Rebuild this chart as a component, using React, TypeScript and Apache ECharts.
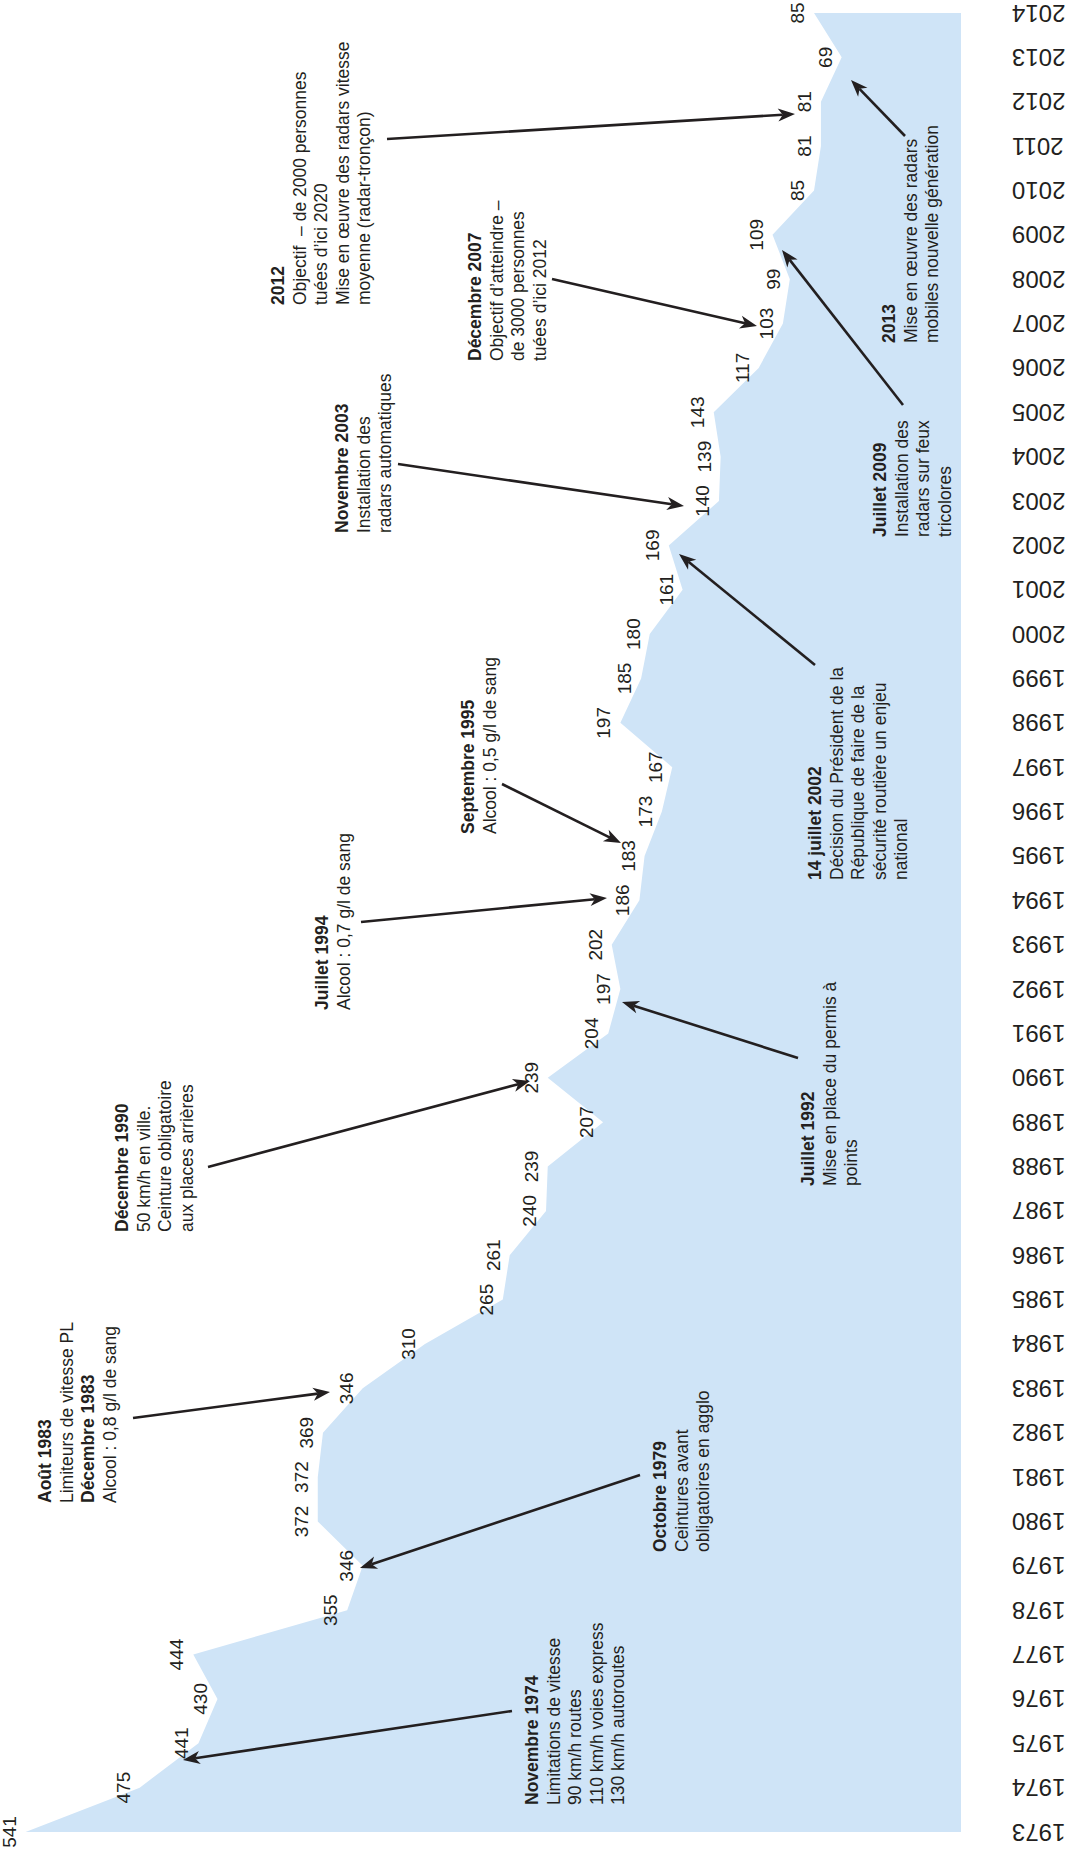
import React, { useEffect, useRef } from 'react';
import * as echarts from 'echarts';

const years = [
  '1973', '1974', '1975', '1976', '1977', '1978', '1979', '1980', '1981', '1982',
  '1983', '1984', '1985', '1986', '1987', '1988', '1989', '1990', '1991', '1992',
  '1993', '1994', '1995', '1996', '1997', '1998', '1999', '2000', '2001', '2002',
  '2003', '2004', '2005', '2006', '2007', '2008', '2009', '2010', '2011', '2012',
  '2013', '2014',
];

const deaths = [
  541, 475, 441, 430, 444, 355, 346, 372, 372, 369,
  346, 310, 265, 261, 240, 239, 207, 239, 204, 197,
  202, 186, 183, 173, 167, 197, 185, 180, 161, 169,
  140, 139, 143, 117, 103, 99, 109, 85, 81, 81,
  69, 85,
];

type Line = { t: string; b?: boolean };
type Note = { cx: number; by: number; lines: Line[]; from: [number, number]; to: [number, number] };

const notes: Note[] = [
  {
    cx: 532, by: 1805,
    lines: [
      { t: 'Novembre 1974', b: true },
      { t: 'Limitations de vitesse' },
      { t: '90 km/h routes' },
      { t: '110 km/h voies express' },
      { t: '130 km/h autoroutes' },
    ],
    from: [512, 1711], to: [183, 1760],
  },
  {
    cx: 660, by: 1552,
    lines: [
      { t: 'Octobre 1979', b: true },
      { t: 'Ceintures avant' },
      { t: 'obligatoires en agglo' },
    ],
    from: [640, 1475], to: [360, 1568],
  },
  {
    cx: 45, by: 1503,
    lines: [
      { t: 'Août 1983', b: true },
      { t: 'Limiteurs de vitesse PL' },
      { t: 'Décembre 1983', b: true },
      { t: 'Alcool : 0,8 g/l de sang' },
    ],
    from: [133, 1418], to: [330, 1392],
  },
  {
    cx: 122, by: 1232,
    lines: [
      { t: 'Décembre 1990', b: true },
      { t: '50 km/h en ville.' },
      { t: 'Ceinture obligatoire' },
      { t: 'aux places arrières' },
    ],
    from: [208, 1167], to: [530, 1081],
  },
  {
    cx: 808, by: 1186,
    lines: [
      { t: 'Juillet 1992', b: true },
      { t: 'Mise en place du permis à' },
      { t: 'points' },
    ],
    from: [798, 1058], to: [622, 1002],
  },
  {
    cx: 322, by: 1010,
    lines: [
      { t: 'Juillet 1994', b: true },
      { t: 'Alcool : 0,7 g/l de sang' },
    ],
    from: [361, 922], to: [607, 898],
  },
  {
    cx: 468, by: 834,
    lines: [
      { t: 'Septembre 1995', b: true },
      { t: 'Alcool : 0,5 g/l de sang' },
    ],
    from: [502, 784], to: [621, 843],
  },
  {
    cx: 815, by: 880,
    lines: [
      { t: '14 juillet 2002', b: true },
      { t: 'Décision du Président de la' },
      { t: 'République de faire de la' },
      { t: 'sécurité routière un enjeu' },
      { t: 'national' },
    ],
    from: [815, 665], to: [679, 554],
  },
  {
    cx: 342, by: 533,
    lines: [
      { t: 'Novembre 2003', b: true },
      { t: 'Installation des' },
      { t: 'radars automatiques' },
    ],
    from: [398, 464], to: [684, 506],
  },
  {
    cx: 475, by: 361,
    lines: [
      { t: 'Décembre 2007', b: true },
      { t: 'Objectif d’atteindre –' },
      { t: 'de 3000 personnes' },
      { t: 'tuées d’ici 2012' },
    ],
    from: [552, 279], to: [757, 326],
  },
  {
    cx: 880, by: 537,
    lines: [
      { t: 'Juillet 2009', b: true },
      { t: 'Installation des' },
      { t: 'radars sur feux' },
      { t: 'tricolores' },
    ],
    from: [903, 405], to: [782, 250],
  },
  {
    cx: 278, by: 305,
    lines: [
      { t: '2012', b: true },
      { t: 'Objectif  – de 2000 personnes' },
      { t: 'tuées d’ici 2020' },
      { t: 'Mise en œuvre des radars vitesse' },
      { t: 'moyenne (radar-tronçon)' },
    ],
    from: [387, 139], to: [795, 114],
  },
  {
    cx: 889, by: 343,
    lines: [
      { t: '2013', b: true },
      { t: 'Mise en œuvre des radars' },
      { t: 'mobiles nouvelle génération' },
    ],
    from: [905, 136], to: [851, 80],
  },
];

const FONT = "'Liberation Sans', Arial, Helvetica, sans-serif";
const INK = '#231f20';
const AREA = '#cfe4f7';
const LH = 21.5;

function buildGraphics() {
  const els: any[] = [];
  notes.forEach((n) => {
    els.push({
      type: 'text',
      x: n.cx - LH / 2,
      y: n.by,
      rotation: Math.PI / 2,
      z: 100,
      style: {
        text: n.lines.map((l) => (l.b ? `{b|${l.t}}` : `{r|${l.t}}`)).join('\n'),
        align: 'left',
        verticalAlign: 'top',
        rich: {
          b: { fontFamily: FONT, fontSize: 17.5, fontWeight: 'bold', lineHeight: LH, fill: INK },
          r: { fontFamily: FONT, fontSize: 17.5, fontWeight: 'normal', lineHeight: LH, fill: INK },
        },
      },
    });
    const [x1, y1] = n.from;
    const [x2, y2] = n.to;
    const dx = x2 - x1;
    const dy = y2 - y1;
    const len = Math.sqrt(dx * dx + dy * dy);
    const ux = dx / len;
    const uy = dy / len;
    const px = -uy;
    const py = ux;
    const L = 17;
    const W = 13;
    const bx = x2 - ux * L;
    const by = y2 - uy * L;
    const nx = x2 - ux * L * 0.72;
    const ny = y2 - uy * L * 0.72;
    els.push({
      type: 'line',
      z: 100,
      shape: { x1, y1, x2: nx, y2: ny },
      style: { stroke: INK, lineWidth: 2.6 },
    });
    els.push({
      type: 'polygon',
      z: 100,
      shape: {
        points: [
          [x2, y2],
          [bx + (px * W) / 2, by + (py * W) / 2],
          [nx, ny],
          [bx - (px * W) / 2, by - (py * W) / 2],
        ],
      },
      style: { fill: INK },
    });
  });
  return els;
}

export default function App() {
  const ref = useRef<HTMLDivElement | null>(null);

  useEffect(() => {
    if (!ref.current) return;
    const chart = echarts.init(ref.current, undefined, { renderer: 'svg' });
    chart.setOption({
      animation: false,
      backgroundColor: '#ffffff',
      grid: { left: 10, right: 111, top: 13, bottom: 17, containLabel: false },
      xAxis: {
        type: 'value',
        inverse: true,
        min: 0,
        max: 550,
        show: false,
      },
      yAxis: {
        type: 'category',
        data: years,
        position: 'right',
        boundaryGap: false,
        axisLine: { show: false },
        axisTick: { show: false },
        splitLine: { show: false },
        axisLabel: {
          interval: 0,
          rotate: 180,
          margin: 51,
          fontSize: 24,
          color: INK,
          fontFamily: FONT,
          padding: [0, 0, 6, 0],
        },
      },
      series: [
        {
          type: 'line',
          data: deaths,
          silent: true,
          symbol: 'circle',
          symbolSize: 2,
          showSymbol: true,
          itemStyle: { color: 'rgba(0,0,0,0)' },
          lineStyle: { width: 0, color: AREA },
          areaStyle: { color: AREA, opacity: 1 },
          label: {
            show: true,
            position: 'left',
            distance: 6,
            rotate: 90,
            align: 'center',
            verticalAlign: 'bottom',
            fontSize: 19,
            fontFamily: FONT,
            color: INK,
            formatter: (p: any) => String(p.value),
          },
        },
      ],
      graphic: buildGraphics(),
    });
    return () => chart.dispose();
  }, []);

  return (
    <div
      ref={ref}
      style={{ position: 'absolute', left: 0, top: 0, width: 1072, height: 1849, background: '#fff' }}
    />
  );
}
